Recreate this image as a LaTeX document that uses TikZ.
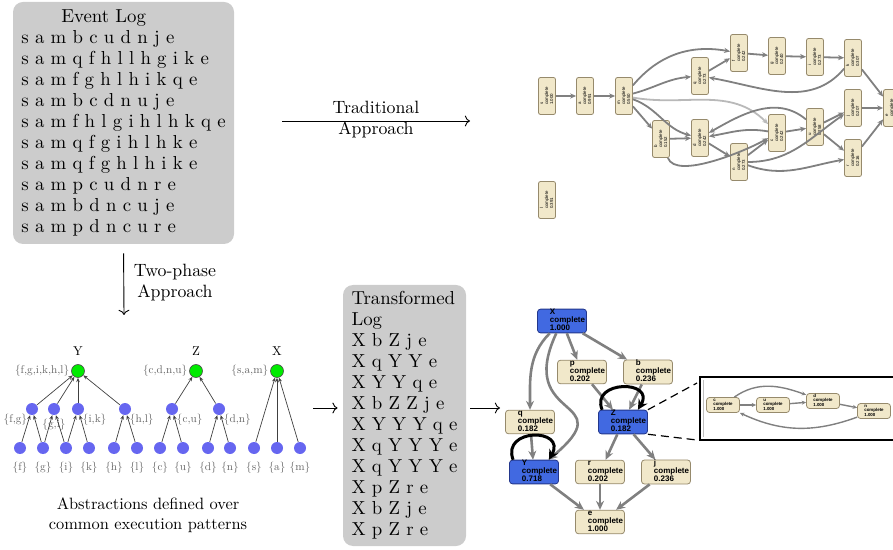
\documentclass[tikz,border=0pt]{standalone}
\usepackage{fontspec}
\usepackage{graphicx}
\usepackage{xcolor}
\usepackage{tikz}
\usetikzlibrary{arrows.meta}

\setmainfont{lmroman10-regular.otf}
\newfontfamily\promfont{Liberation Sans}

\definecolor{logGray}{RGB}{204,204,204}
\definecolor{promBeige}{RGB}{241,232,202}
\definecolor{promBorder}{RGB}{150,138,108}
\definecolor{promBlue}{RGB}{65,105,225}
\definecolor{promBlueDark}{RGB}{35,55,140}
\definecolor{absBlue}{RGB}{102,102,240}
\definecolor{absGreen}{RGB}{0,235,0}

\newcommand{\promlab}[3][5.5pt]{\begin{tabular}{@{\hspace{#1}}l@{}}#2\\complete\\#3\end{tabular}}
\newcommand{\vpromlab}[2]{\rotatebox{90}{\promlab[0pt]{#1}{#2}}}

\begin{document}
\begin{tikzpicture}[
    x=0.5pt, y=0.5pt,
    logbox/.style={rectangle, rounded corners=5pt, fill=logGray, align=left, inner ysep=1pt, font=\fontsize{9.4}{10.5}\selectfont},
    flowarrow/.style={->, draw=black, line width=0.45pt},
    flowlabel/.style={align=center, inner sep=0pt, font=\fontsize{8.9}{10.5}\selectfont},
    absinner/.style={circle, fill=absBlue, minimum size=6pt, inner sep=0pt},
    absroot/.style={circle, fill=absGreen, draw=black!70, line width=0.3pt, minimum size=6.5pt, inner sep=0pt},
    abstitle/.style={inner sep=0pt, font=\fontsize{6.4}{7}\selectfont},
    abslabel/.style={text=black!60, inner sep=0pt, font=\fontsize{5.6}{6.5}\selectfont},
    abslink/.style={-{Stealth[length=2.2pt,width=1.8pt]}, draw=black!75, line width=0.35pt},
    vstate/.style={rectangle, rounded corners=1pt, fill=promBeige, draw=promBorder, line width=0.4pt, minimum width=8.5pt, minimum height=18.5pt, inner sep=0pt, font=\promfont\fontsize{2.2}{2.5}\selectfont},
    hstate/.style={rectangle, rounded corners=1.5pt, fill=promBeige, draw=promBorder, line width=0.4pt, minimum width=24.5pt, minimum height=11.5pt, inner sep=0pt, font=\promfont\bfseries\fontsize{4}{3.8}\selectfont},
    hblue/.style={hstate, fill=promBlue, draw=promBlueDark},
    istate/.style={hstate, minimum width=16.5pt, minimum height=7.5pt, font=\promfont\bfseries\fontsize{2.2}{2.4}\selectfont},
    vedge/.style={draw=gray, line width=0.9pt, -{Stealth[length=3pt,width=2.6pt]}},
    vfaint/.style={vedge, draw=gray!55},
    hedge/.style={draw=gray, line width=1.3pt, -{Stealth[length=4.5pt,width=4pt]}},
    hloop/.style={draw=black, line width=1.5pt, -{Stealth[length=5pt,width=5pt]}},
    iedge/.style={draw=gray, line width=0.7pt, -{Stealth[length=2.2pt,width=2pt]}},
    zoomline/.style={draw=black, line width=0.6pt, dash pattern=on 4pt off 2.5pt}
]
    \useasboundingbox (0,0) rectangle (893,-550);

    % Logs
    \node (evlog) [logbox, minimum width=110.5pt, minimum height=121pt] at (123.5,-123) {\hspace*{20pt}Event Log\\
        s a m b c u d n j e\\
        s a m q f h l l h g i k e\\
        s a m f g h l h i k q e\\
        s a m b c d n u j e\\
        s a m f h l g i h l h k q e\\
        s a m q f g i h l h k e\\
        s a m q f g h l h i k e\\
        s a m p c u d n r e\\
        s a m b d n c u j e\\
        s a m p d n c u r e};
    \node (translog) [logbox, minimum width=61.5pt, minimum height=130.5pt] at (404.5,-415.5) {Transformed\\
        Log\\
        X b Z j e\\
        X q Y Y e\\
        X Y Y q e\\
        X b Z Z j e\\
        X Y Y Y q e\\
        X q Y Y Y e\\
        X q Y Y Y e\\
        X p Z r e\\
        X b Z j e\\
        X p Z r e};

    % Approaches
    \coordinate (tradstart) at (282,-121);
    \coordinate (tradend) at (470,-121);
    \coordinate (twoend) at (124,-315);
    \coordinate (absend) at (313,-408);
    \coordinate (promstart) at (500,-408);
    \node (tradlabel) [flowlabel] at (376,-120) {Traditional\\Approach};
    \node (twolabel) [flowlabel] at (175,-283) {Two-phase\\Approach};
    \draw [flowarrow] (tradstart) -- (tradend);
    \draw [flowarrow, shorten <=4.5pt] (evlog.south) -- (twoend);
    \draw [flowarrow, shorten >=2.5pt] (absend) -- (absend -| translog.west);
    \draw [flowarrow, shorten <=2pt] (promstart -| translog.east) -- (promstart);

    % Abstraction trees
    \node (yroot) [absroot, label={[abstitle, label distance=4.2pt]above:Y}, label={[abslabel, label distance=0.8pt]left:{\{f,g,i,k,h,l\}}}] at (78,-371) {};
    \node (yfg) [absinner, label={[abslabel]below left:{\{f,g\}}}] at (32,-409) {};
    \node (ygi) [absinner, label={[abslabel, label distance=1.5pt]below:{\{g,i\}}}] at (54,-409) {};
    \node (yik) [absinner, label={[abslabel]below right:{\{i,k\}}}] at (78,-409) {};
    \node (yhl) [absinner, label={[abslabel]below right:{\{h,l\}}}] at (125,-409) {};
    \node (yf) [absinner, label={[abslabel, label distance=3.5pt]below:{\{f\}}}] at (20,-448) {};
    \node (yg) [absinner, label={[abslabel, label distance=3.5pt]below:{\{g\}}}] at (43,-448) {};
    \node (yi) [absinner, label={[abslabel, label distance=3.5pt]below:{\{i\}}}] at (66,-448) {};
    \node (yk) [absinner, label={[abslabel, label distance=3.5pt]below:{\{k\}}}] at (89,-448) {};
    \node (yh) [absinner, label={[abslabel, label distance=3.5pt]below:{\{h\}}}] at (114,-448) {};
    \node (yl) [absinner, label={[abslabel, label distance=3.5pt]below:{\{l\}}}] at (137,-448) {};

    \node (zroot) [absroot, label={[abstitle, label distance=4.2pt]above:Z}, label={[abslabel, label distance=0.8pt]left:{\{c,d,n,u\}}}] at (196,-371) {};
    \node (zcu) [absinner, label={[abslabel]below right:{\{c,u\}}}] at (172,-409) {};
    \node (zdn) [absinner, label={[abslabel]below right:{\{d,n\}}}] at (219,-409) {};
    \node (zc) [absinner, label={[abslabel, label distance=3.5pt]below:{\{c\}}}] at (160,-448) {};
    \node (zu) [absinner, label={[abslabel, label distance=3.5pt]below:{\{u\}}}] at (183,-448) {};
    \node (zd) [absinner, label={[abslabel, label distance=3.5pt]below:{\{d\}}}] at (208,-448) {};
    \node (zn) [absinner, label={[abslabel, label distance=3.5pt]below:{\{n\}}}] at (230,-448) {};

    \node (xroot) [absroot, label={[abstitle, label distance=4.2pt]above:X}, label={[abslabel, label distance=0.8pt]left:{\{s,a,m\}}}] at (277,-371) {};
    \node (xs) [absinner, label={[abslabel, label distance=3.5pt]below:{\{s\}}}] at (254,-448) {};
    \node (xa) [absinner, label={[abslabel, label distance=3.5pt]below:{\{a\}}}] at (277,-448) {};
    \node (xm) [absinner, label={[abslabel, label distance=3.5pt]below:{\{m\}}}] at (300,-448) {};

    \node (abscaption) [flowlabel, font=\fontsize{8.2}{10}\selectfont] at (148,-515) {Abstractions defined over\\common execution patterns};

    \draw [abslink] (yfg) -- (yroot);
    \draw [abslink] (ygi) -- (yroot);
    \draw [abslink] (yik) -- (yroot);
    \draw [abslink] (yhl) -- (yroot);
    \draw [abslink] (yf) -- (yfg);
    \draw [abslink] (yg) -- (yfg);
    \draw [abslink] (yg) -- (ygi);
    \draw [abslink] (yi) -- (ygi);
    \draw [abslink] (yi) -- (yik);
    \draw [abslink] (yk) -- (yik);
    \draw [abslink] (yh) -- (yhl);
    \draw [abslink] (yl) -- (yhl);
    \draw [abslink] (zcu) -- (zroot);
    \draw [abslink] (zdn) -- (zroot);
    \draw [abslink] (zc) -- (zcu);
    \draw [abslink] (zu) -- (zcu);
    \draw [abslink] (zd) -- (zdn);
    \draw [abslink] (zn) -- (zdn);
    \draw [abslink] (xs) -- (xroot);
    \draw [abslink] (xa) -- (xroot);
    \draw [abslink] (xm) -- (xroot);

    % Traditional model
    \node (ts) [vstate] at (547,-96) {\vpromlab{s}{1.000}};
    \node (ta) [vstate] at (585,-96) {\vpromlab{a}{0.991}};
    \node (tm) [vstate] at (624,-96) {\vpromlab{m}{0.550}};
    \node (tq) [vstate] at (700,-76) {\vpromlab{q}{0.273}};
    \node (tb) [vstate] at (661,-139) {\vpromlab{b}{0.152}};
    \node (td) [vstate] at (700,-138) {\vpromlab{d}{0.242}};
    \node (tn) [vstate] at (739,-162) {\vpromlab{n}{0.273}};
    \node (tf) [vstate] at (739,-53) {\vpromlab{f}{0.242}};
    \node (tg) [vstate] at (777,-56) {\vpromlab{g}{0.240}};
    \node (ti) [vstate] at (815,-57) {\vpromlab{i}{0.273}};
    \node (tk) [vstate] at (853,-58) {\vpromlab{k}{0.307}};
    \node (tc) [vstate] at (777,-133) {\vpromlab{c}{0.242}};
    \node (tu) [vstate] at (815,-127) {\vpromlab{u}{0.258}};
    \node (tj) [vstate] at (853,-108) {\vpromlab{j}{0.207}};
    \node (tr) [vstate] at (853,-158) {\vpromlab{r}{0.216}};
    \node (te) [vstate] at (892,-108) {\vpromlab{e}{1.000}};
    \node (tl) [vstate] at (547,-200) {\vpromlab{l}{0.391}};

    \draw [vedge] (ts) -- (ta);
    \draw [vedge] (ta) -- (tm);
    \draw [vedge] (tm) to[out=15, in=185] (tq);
    \draw [vedge] (tm) to[out=50, in=170] (tf);
    \draw [vfaint] (tm) to[out=-10, in=135] (tc);
    \draw [vedge] (tm) to[out=-20, in=165] (td);
    \draw [vedge] (tm) -- (tb);
    \draw [vedge] (tb) -- (td);
    \draw [vedge] (tb) to[out=-70, in=210, looseness=0.6] (tc);
    \draw [vedge] (td) -- (tn);
    \draw [vedge] (tn) -- (tc);
    \draw [vedge] (tc) -- (tu);
    \draw [vedge] (tu) to[out=140, in=30] (td);
    \draw [vedge] (tc) to[out=170, in=10] (td);
    \draw [vedge] (tq) -- (tf);
    \draw [vedge] (tf) -- (tg);
    \draw [vedge] (tg) -- (ti);
    \draw [vedge] (ti) -- (tk);
    \draw [vedge] (tk) to[out=230, in=-10] (tq);
    \draw [vedge] (tu) -- (tj);
    \draw [vedge] (tu) -- (tr);
    \draw [vedge] (tn) to[out=0, in=215] (tj);
    \draw [vedge] (tn) to[out=-20, in=190] (tr);
    \draw [vedge] (tk) -- (te);
    \draw [vedge] (tj) -- (te);
    \draw [vedge] (tr) -- (te);

    % Two-phase model
    \node (pX) [hblue] at (562,-321) {\promlab{X}{1.000}};
    \node (pp) [hstate] at (582,-372) {\promlab{p}{0.202}};
    \node (pb) [hstate] at (648,-372) {\promlab{b}{0.236}};
    \node (pq) [hstate] at (530,-422) {\promlab{q}{0.182}};
    \node (pZ) [hblue] at (623,-422) {\promlab{Z}{0.182}};
    \node (pY) [hblue] at (534,-472) {\promlab{Y}{0.718}};
    \node (pr) [hstate] at (600,-472) {\promlab{r}{0.202}};
    \node (pj) [hstate] at (666,-472) {\promlab{j}{0.236}};
    \node (pe) [hstate] at (600,-522) {\promlab{e}{1.000}};

    \draw [hedge] (pX) -- (pp);
    \draw [hedge] (pX) -- (pb);
    \draw [hedge] (pX) to[out=-135, in=90] (pq);
    \draw [hedge] (pX) to[out=-115, in=40, looseness=2] (pY);
    \draw [hedge] (pq) -- (pY);
    \draw [hedge] (pp) -- (pZ);
    \draw [hedge] (pb) -- (pZ);
    \draw [hedge] (pZ) -- (pr);
    \draw [hedge] (pZ) -- (pj);
    \draw [hedge] (pY) -- (pe);
    \draw [hedge] (pr) -- (pe);
    \draw [hedge] (pj) -- (pe);
    \draw [hloop] ([xshift=2pt]pY.north west) .. controls +(-12,32) and +(18,32) .. ([xshift=-5pt]pY.north east);
    \draw [hloop] ([xshift=2pt]pZ.north west) .. controls +(-12,30) and +(18,30) .. ([xshift=-5pt]pZ.north east);

    % Zoomed abstraction Z
    \coordinate (zoomtop) at (697,-383);
    \coordinate (zoombot) at (697,-440);
    \draw [zoomline] (pZ.north east) -- (zoomtop);
    \draw [zoomline] (pZ.south east) -- (zoombot);
    \draw [black, line width=0.75pt] (700,-377) rectangle (910,-440);
    \draw [gray!50, line width=0.3pt] (703,-380) -- (703,-437);

    \node (c1) [istate] at (723,-405) {\promlab[0pt]{c}{1.000}};
    \node (u1) [istate] at (773,-405) {\promlab[0pt]{u}{1.000}};
    \node (d1) [istate] at (823,-401) {\promlab[0pt]{d}{1.000}};
    \node (n1) [istate] at (874,-411) {\promlab[0pt]{n}{1.000}};

    \draw [iedge] (c1) -- (u1);
    \draw [iedge] (u1) -- (d1);
    \draw [iedge] (c1) to[out=35, in=160] (d1);
    \draw [iedge] (d1) -- (n1);
    \draw [iedge] (n1) to[out=200, in=-25] (c1);
\end{tikzpicture}
\end{document}
